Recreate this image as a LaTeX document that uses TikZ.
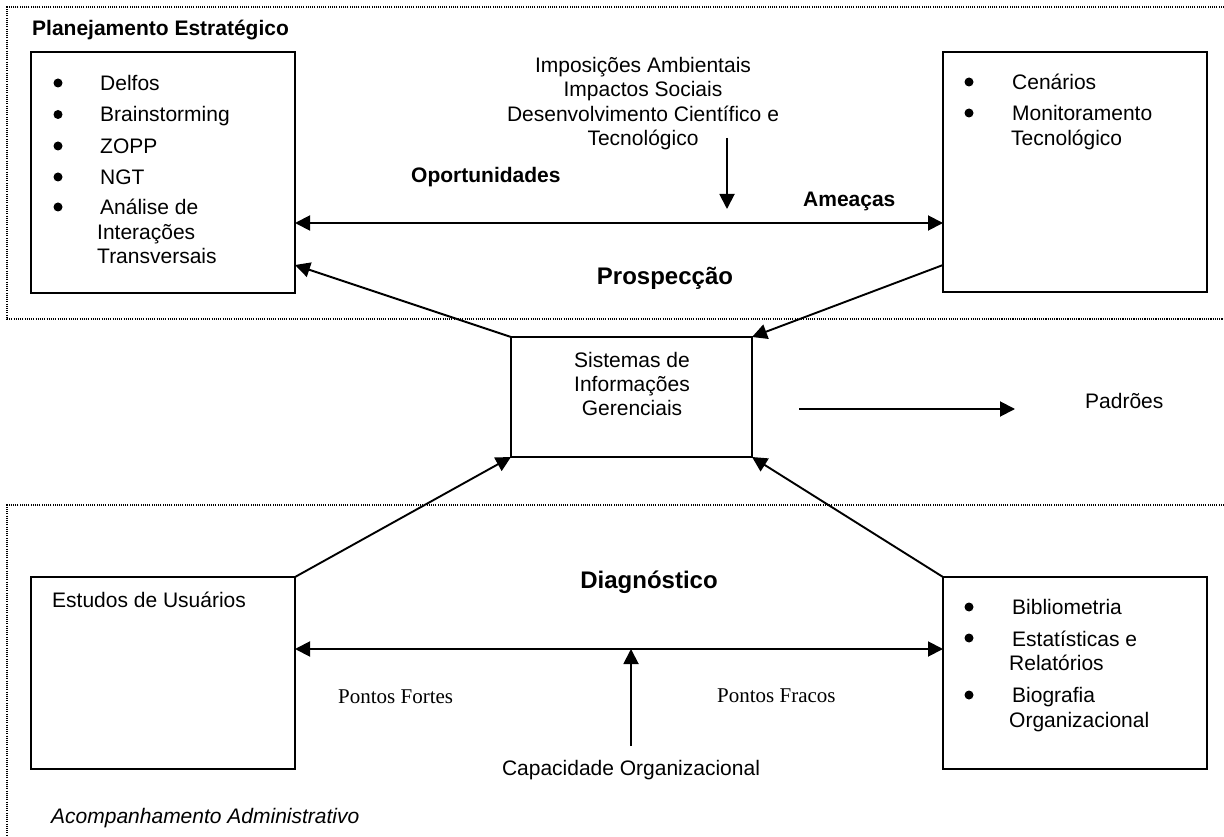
\documentclass[tikz,border=0pt]{standalone}
\usepackage{fontspec}
\setmainfont{Liberation Sans}
\newfontfamily\timesfont{Liberation Serif}
\usetikzlibrary{arrows.meta,calc}
\tikzset{
  frame/.style={line width=1.3pt, dash pattern=on 1.1pt off 1.1pt},
  panel/.style={draw, line width=1.9pt, inner sep=0pt, outer sep=0pt},
  txt/.style={anchor=base west, inner sep=0pt, font=\fontsize{21}{25}\selectfont},
  ctxt/.style={anchor=base, inner sep=0pt, font=\fontsize{21}{25}\selectfont},
  btxt/.style={txt, font=\fontsize{21}{25}\selectfont\bfseries},
  head/.style={anchor=base, inner sep=0pt, font=\fontsize{24}{28}\selectfont\bfseries},
  bullet/.style={circle, fill, inner sep=0pt, minimum size=9pt},
  link/.style={line width=1.9pt},
  arr/.style={link, -{Triangle[length=15pt,width=15pt]}},
  dbl/.style={link, {Triangle[length=15pt,width=15pt]}-{Triangle[length=15pt,width=15pt]}},
}
\begin{document}
\begin{tikzpicture}[x=1pt,y=-1pt]
\useasboundingbox (0,0) rectangle (1224,837);

% dotted zones
\draw[frame] (1224,7) -| (7,319) -- (1224,319);
\draw[frame] (1224,505) -| (7,837);

% boxes
\node[panel, minimum width=264pt, minimum height=241pt] (pe)  at (163,172.5) {};
\node[panel, minimum width=264pt, minimum height=240pt] (mt)  at (1075,172) {};
\node[panel, minimum width=241pt, minimum height=120pt] (sig) at (631.5,397) {};
\node[panel, minimum width=264pt, minimum height=192pt] (eu)  at (163,673) {};
\node[panel, minimum width=264pt, minimum height=192pt] (bib) at (1075,673) {};

% planning zone
\node[btxt] (plan) at (32,36) {Planejamento Estratégico};
\node[bullet] (b1) at (58,83) {};
\node[txt] (t1) at (100,91) {Delfos};
\node[bullet] (b2) at (58,114.5) {};
\node[txt] (t2) at (100,122) {Brainstorming};
\node[bullet] (b3) at (58,146) {};
\node[txt] (t3) at (100,154) {ZOPP};
\node[bullet] (b4) at (58,177) {};
\node[txt] (t4) at (100,185) {NGT};
\node[bullet] (b5) at (58,207) {};
\node[txt] (t5) at (100,215) {Análise de};
\node[txt] (t5b) at (97,240) {Interações};
\node[txt] (t5c) at (97,264) {Transversais};

\node[bullet] (c1) at (969,82) {};
\node[txt] (u1) at (1012,90) {Cenários};
\node[bullet] (c2) at (969,113) {};
\node[txt] (u2) at (1012,121) {Monitoramento};
\node[txt] (u2b) at (1011,146) {Tecnológico};

\node[ctxt] (imp1) at (643,73) {Imposições Ambientais};
\node[ctxt] (imp2) at (643,97) {Impactos Sociais};
\node[ctxt] (imp3) at (643,122) {Desenvolvimento Científico e};
\node[ctxt] (imp4) at (643,146) {Tecnológico};
\node[btxt] (opp) at (411,183) {Oportunidades};
\node[btxt] (thr) at (803,207) {Ameaças};
\node[head] (prosp) at (665,284) {Prospecção};

% information systems
\node[ctxt] (s1) at (632,367) {Sistemas de};
\node[ctxt] (s2) at (632,391) {Informações};
\node[ctxt] (s3) at (632,415) {Gerenciais};
\node[txt] (pad) at (1085,408) {Padrões};

% diagnosis zone
\node[head] (diag) at (649,588) {Diagnóstico};
\node[txt] (est) at (52,607) {Estudos de Usuários};
\node[txt, font=\fontsize{21}{25}\selectfont\timesfont] (pf) at (338,703) {Pontos Fortes};
\node[txt, font=\fontsize{21}{25}\selectfont\timesfont] (pw) at (717,702) {Pontos Fracos};
\node[ctxt] (cap) at (631,775) {Capacidade Organizacional};

\node[bullet] (d1) at (969,607) {};
\node[txt] (v1) at (1012,614) {Bibliometria};
\node[bullet] (d2) at (969,638) {};
\node[txt] (v2) at (1012,646) {Estatísticas e};
\node[txt] (v2b) at (1009,670) {Relatórios};
\node[bullet] (d3) at (969,695) {};
\node[txt] (v3) at (1012,702) {Biografia};
\node[txt] (v3b) at (1009,727) {Organizacional};

\node[txt, font=\fontsize{21}{25}\selectfont\itshape] (acomp) at (51,823) {Acompanhamento Administrativo};

% connector helpers
\coordinate (ytop) at (0,223);
\coordinate (yside) at (0,265);
\coordinate (ybot) at (0,649);
\coordinate (impA) at (727,138);
\coordinate (impB) at (727,209);
\coordinate (capA) at (631,746);
\coordinate (capB) at (631,649);
\coordinate (outA) at (799,409);
\coordinate (outB) at (1015,409);

% connectors
\draw[dbl] (pe.east |- ytop) -- (mt.west |- ytop);
\draw[arr] (impA) -- (impB);
\draw[arr] (sig.north west) -- (pe.east |- yside);
\draw[arr] (mt.west |- yside) -- (sig.north east);
\draw[arr] (eu.north east) -- (sig.south west);
\draw[arr] (bib.north west) -- (sig.south east);
\draw[dbl] (eu.east |- ybot) -- (bib.west |- ybot);
\draw[arr] (capA) -- (capB);
\draw[arr] (outA) -- (outB);
\end{tikzpicture}
\end{document}
